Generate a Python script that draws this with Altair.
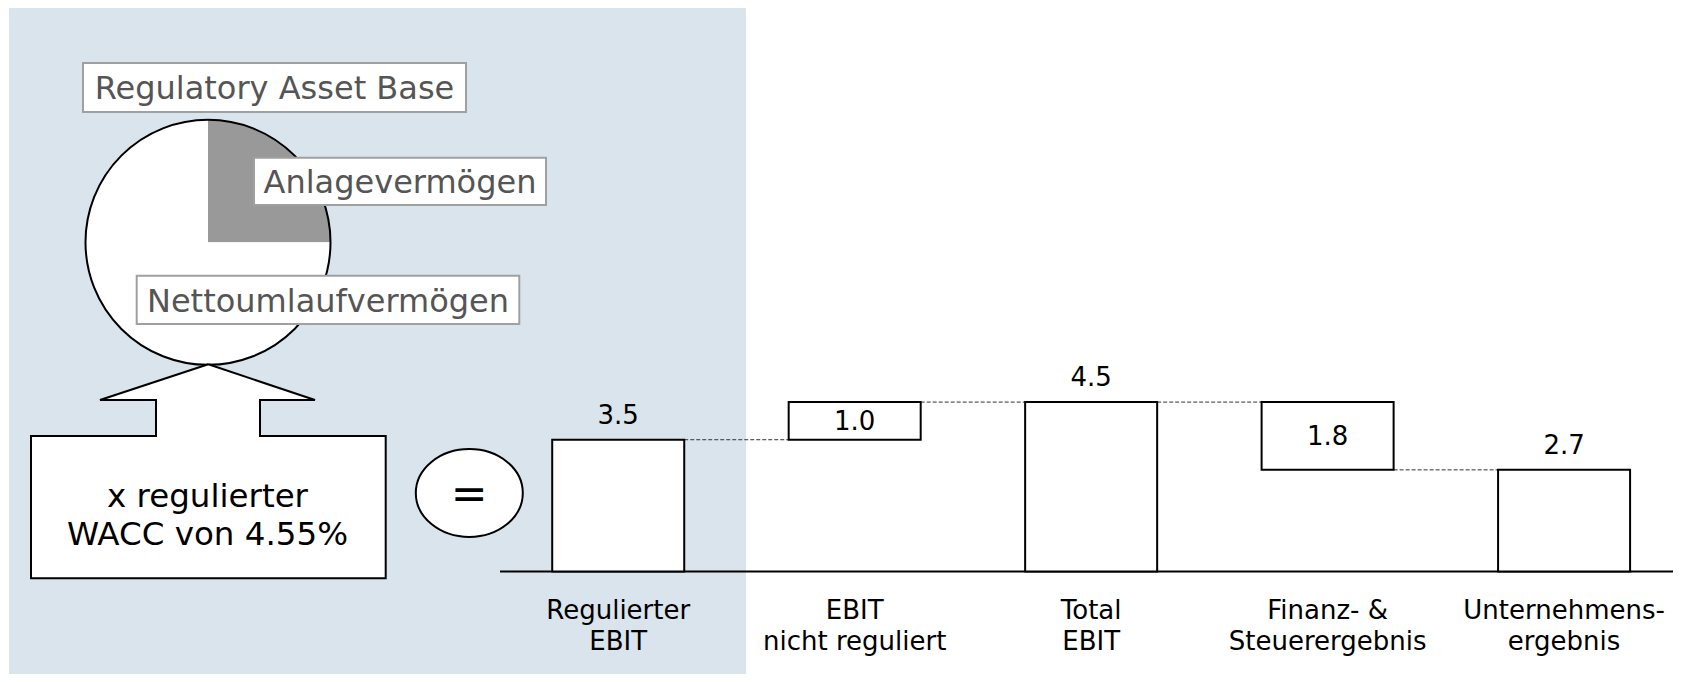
import altair as alt
import pandas as pd

FONT = "DejaVu Sans"

# ---------------- waterfall data ----------------
categories = ["Regulierter\nEBIT", "EBIT\nnicht reguliert", "Total\nEBIT",
              "Finanz- &\nSteuerergebnis", "Unternehmens-\nergebnis"]
bar_start = [0.0, 3.5, 0.0, 4.5, 0.0]
bar_end = [3.5, 4.5, 4.5, 2.7, 2.7]
bar_labels = ["3.5", "1.0", "4.5", "1.8", "2.7"]
label_inside = [False, True, False, True, False]

# ---------------- left diagram (page-pixel geometry) ----------------
bg_box = {"x": 9, "x2": 746, "y": 6, "y2": 682}
pie_names = ["Anlagevermögen", "Nettoumlaufvermögen"]
pie_shares = [25, 75]
pie_fills = ["#999999", "#ffffff"]
pie_cx, pie_cy, pie_r = 208, 242.3, 122.5

box_texts = ["Regulatory Asset Base", "Anlagevermögen", "Nettoumlaufvermögen"]
box_x = [83, 254, 136.7]
box_x2 = [466, 546, 519.3]
box_y = [63, 157.7, 275.7]
box_y2 = [112, 205, 324]
box_tx = [274.5, 400, 328]
box_ty = [99.3, 193.3, 312.3]

arrow_x = [208.3, 315, 260, 260, 385.7, 385.7, 31, 31, 156, 156, 100, 208.3]
arrow_y = [364.3, 400, 400, 436, 436, 578.3, 578.3, 436, 436, 400, 400, 364.3]
arrow_rect_x = [31, 156]
arrow_rect_x2 = [385.7, 260]
arrow_rect_y = [436, 399]
arrow_rect_y2 = [578.3, 437]
head_y = [364.3, 400]
head_xl = [208.3, 100]
head_xr = [208.3, 315]

wacc_lines = ["x regulierter", "WACC von 4.55%"]
wacc_x = [207.5, 207.5]
wacc_y = [506.7, 545]

eq_cx, eq_cy = 469.3, 493
eq_w = 107

PX = alt.Scale(domain=[8, 1673], nice=False, zero=False)
PY = alt.Scale(domain=[8, 674], reverse=True, nice=False, zero=False)
BAND = alt.Scale(domain=categories, range=[492, 1674.3], paddingInner=0.4417, paddingOuter=0.2208)
VY = alt.Scale(domain=[-2.7224, 14.967], nice=False, zero=False)


def px(f):
    return alt.X(f, scale=PX, axis=None)


def py(f):
    return alt.Y(f, scale=PY, axis=None)


bg = alt.Chart(pd.DataFrame([bg_box])).mark_rect(color="#dae4ed").encode(
    x=px("x:Q"), x2="x2:Q", y=py("y:Q"), y2="y2:Q")

pie_df = pd.DataFrame({"name": pie_names, "share": pie_shares, "fill": pie_fills,
                       "ord": [0, 1], "cx": pie_cx, "cy": pie_cy})
pie = alt.Chart(pie_df).mark_arc(radius=pie_r).encode(
    theta=alt.Theta("share:Q", stack=True),
    color=alt.Color("fill:N", scale=None),
    order=alt.Order("ord:Q"),
    x=px("cx:Q"), y=py("cy:Q"))

circ = alt.Chart(pd.DataFrame({"cx": [pie_cx], "cy": [pie_cy]})).mark_point(
    shape="circle", size=(2 * pie_r) ** 2, filled=False, color="black",
    strokeWidth=2, opacity=1).encode(x=px("cx:Q"), y=py("cy:Q"))

box_df = pd.DataFrame({"t": box_texts, "x": box_x, "x2": box_x2, "y": box_y,
                       "y2": box_y2, "tx": box_tx, "ty": box_ty})
boxes = alt.Chart(box_df).mark_rect(fill="white", stroke="#a0a0a0", strokeWidth=2).encode(
    x=px("x:Q"), x2="x2:Q", y=py("y:Q"), y2="y2:Q")
box_text = alt.Chart(box_df).mark_text(font=FONT, fontSize=32, color="#555555",
                                       align="center", baseline="alphabetic").encode(
    x=px("tx:Q"), y=py("ty:Q"), text="t:N")

arect = alt.Chart(pd.DataFrame({"x": arrow_rect_x, "x2": arrow_rect_x2,
                                "y": arrow_rect_y, "y2": arrow_rect_y2})).mark_rect(
    color="white").encode(x=px("x:Q"), x2="x2:Q", y=py("y:Q"), y2="y2:Q")
ahead = alt.Chart(pd.DataFrame({"y": head_y, "xl": head_xl, "xr": head_xr})).mark_area(
    orient="horizontal", color="white").encode(y=py("y:Q"), x=px("xl:Q"), x2="xr:Q")
aline = alt.Chart(pd.DataFrame({"x": arrow_x, "y": arrow_y,
                                "i": list(range(len(arrow_x)))})).mark_line(
    color="black", strokeWidth=2, strokeJoin="miter").encode(
    x=px("x:Q"), y=py("y:Q"), order="i:Q")

wacc = alt.Chart(pd.DataFrame({"t": wacc_lines, "x": wacc_x, "y": wacc_y})).mark_text(
    font=FONT, fontSize=32.5, color="black", align="center", baseline="alphabetic").encode(
    x=px("x:Q"), y=py("y:Q"), text="t:N")

ellipse_path = "M-1,0A1,0.822,0,1,1,1,0A1,0.822,0,1,1,-1,0Z"
eq_df = pd.DataFrame({"x": [eq_cx], "y": [eq_cy], "t": ["="]})
eq_shape = alt.Chart(eq_df).mark_point(shape=ellipse_path, size=eq_w ** 2, filled=True,
                                       fill="white", stroke="black", strokeWidth=2,
                                       opacity=1).encode(x=px("x:Q"), y=py("y:Q"))
eq_text = alt.Chart(eq_df).mark_text(font=FONT, fontSize=44, color="black", align="center",
                                     baseline="middle", dy=3).encode(
    x=px("x:Q"), y=py("y:Q"), text="t:N")

# ---------------- waterfall ----------------
wf = pd.DataFrame({"cat": categories, "start": bar_start, "end": bar_end,
                   "label": bar_labels, "inside": label_inside})
wf["mid"] = (wf["start"] + wf["end"]) / 2
wf["zero"] = 0.0


def bx(f, **kw):
    return alt.X(f, scale=BAND, axis=None, sort=None, **kw)


def vy(f):
    return alt.Y(f, scale=VY, axis=None)


bars = alt.Chart(wf).mark_bar(fill="white", stroke="black", strokeWidth=2).encode(
    x=bx("cat:N"), y=vy("start:Q"), y2="end:Q")

lab_out = alt.Chart(wf[~wf["inside"]]).mark_text(
    font=FONT, fontSize=26, color="black", align="center", baseline="alphabetic", dy=-16).encode(
    x=bx("cat:N"), y=vy("end:Q"), text="label:N")
lab_in = alt.Chart(wf[wf["inside"]]).mark_text(
    font=FONT, fontSize=26, color="black", align="center", baseline="alphabetic", dy=9.5).encode(
    x=bx("cat:N"), y=vy("mid:Q"), text="label:N")

conn = pd.DataFrame({"from": categories[:-1], "to": categories[1:],
                     "level": bar_end[:-1]})
connectors = alt.Chart(conn).mark_rule(color="#333333", strokeWidth=1,
                                       strokeDash=[4, 2]).encode(
    x=bx("from:N", bandPosition=1), x2=alt.X2("to:N", bandPosition=0), y=vy("level:Q"))

baseline = alt.Chart(pd.DataFrame({"zero": [0.0]})).mark_rule(
    color="black", strokeWidth=2).encode(
    y=vy("zero:Q"), x=alt.value(492), x2=alt.value(1673))

cat_text = alt.Chart(wf).mark_text(font=FONT, fontSize=26, color="black", align="center",
                                   baseline="alphabetic", dy=47.5, lineBreak="\n",
                                   lineHeight=31).encode(
    x=bx("cat:N"), y=vy("zero:Q"), text="cat:N")

chart = alt.layer(
    bg, pie, circ, boxes, box_text, arect, ahead, aline, wacc, eq_shape, eq_text,
    baseline, connectors, bars, lab_out, lab_in, cat_text
).resolve_scale(x="independent", y="independent").properties(
    width=1665, height=666, padding=0, autosize="none", background="white"
).configure_view(stroke=None)

chart.save("out.html", embed_options={"renderer": "svg", "actions": False})
